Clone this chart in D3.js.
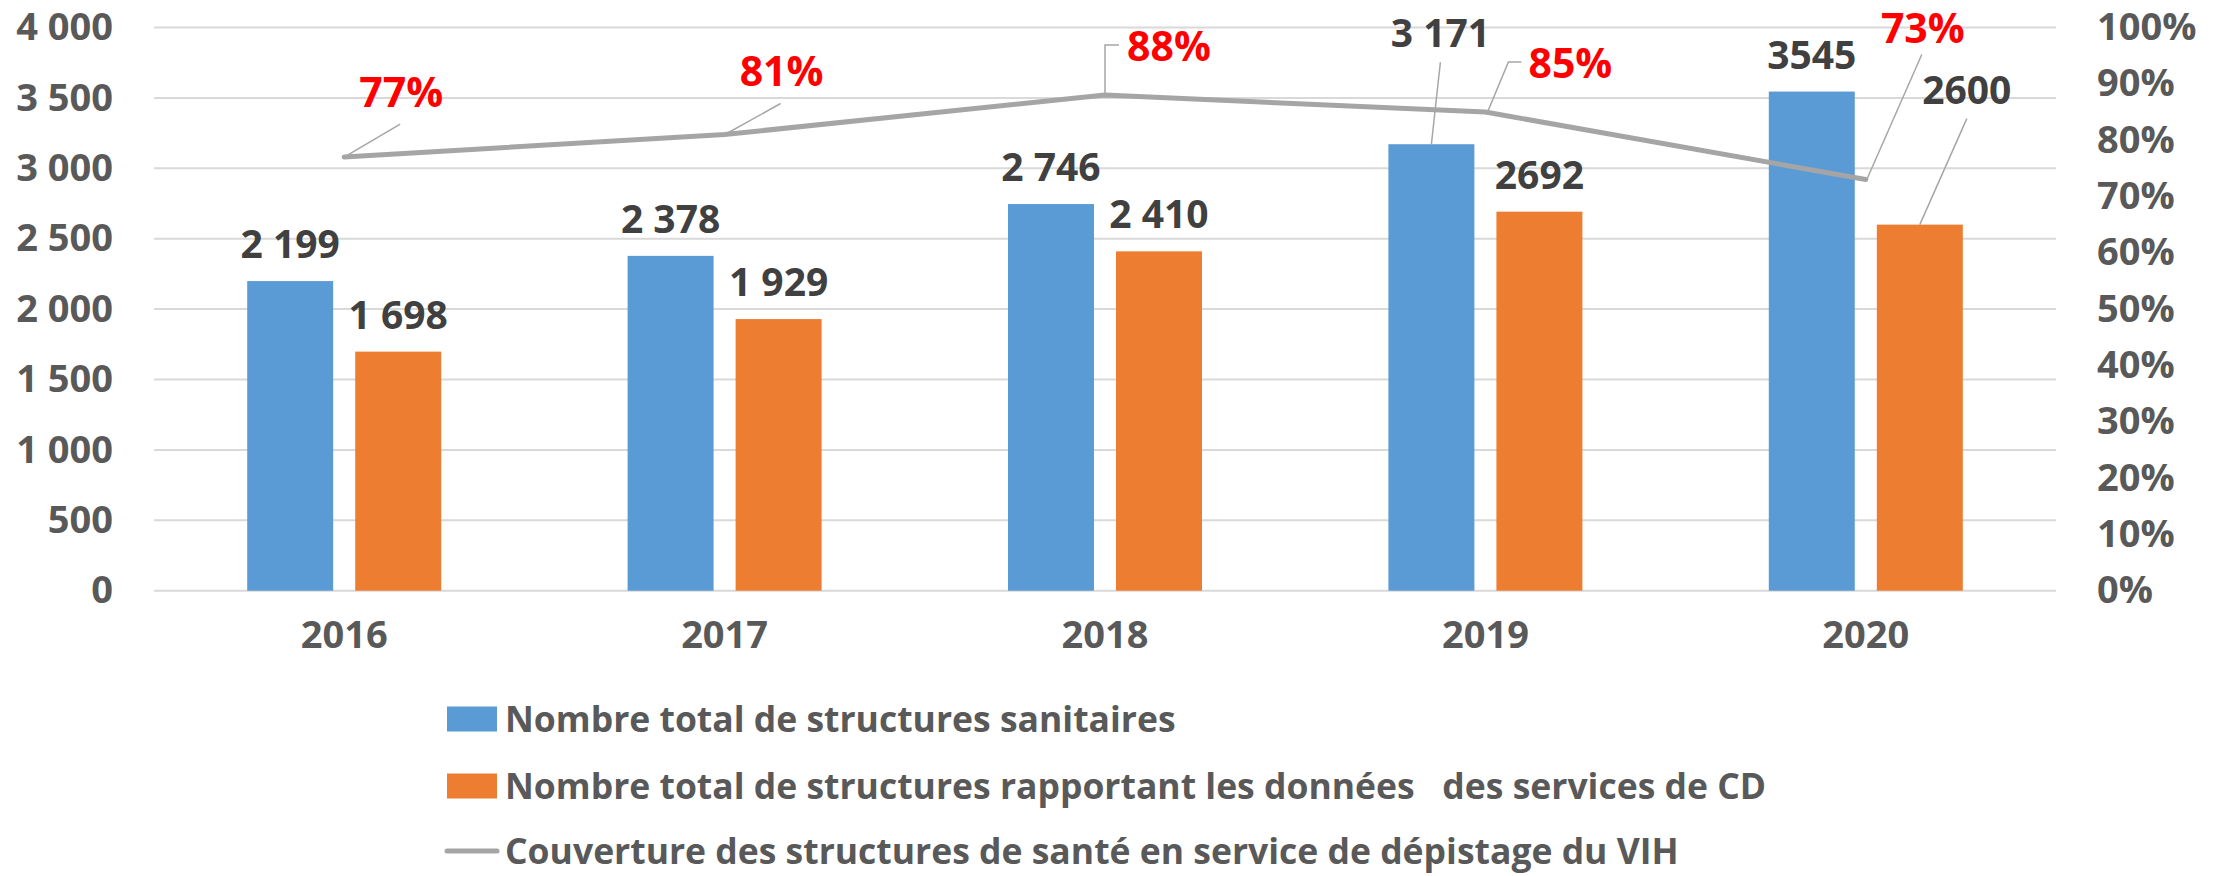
<!DOCTYPE html>
<html>
<head>
<meta charset="utf-8">
<script src="https://cdn.jsdelivr.net/npm/d3@7"></script>
<style>
    body { margin: 0; background: #fff; }
    svg text { font-family: "Open Sans", sans-serif; font-weight: bold; }
</style>
</head>
<body>
<div id="chart"></div>
<script>
// Data
const years = ['2016', '2017', '2018', '2019', '2020'];
const totalStructures = [2199, 2378, 2746, 3171, 3545];
const reportingStructures = [1698, 1929, 2410, 2692, 2600];
const coverage = [0.77, 0.81, 0.88, 0.85, 0.73];
const totalLabels = ['2 199', '2 378', '2 746', '3 171', '3545'];
const reportingLabels = ['1 698', '1 929', '2 410', '2692', '2600'];
const leftTicks = [0, 500, 1000, 1500, 2000, 2500, 3000, 3500, 4000];
const rightTicks = [0, 0.1, 0.2, 0.3, 0.4, 0.5, 0.6, 0.7, 0.8, 0.9, 1];
const legendLabels = [
    'Nombre total de structures sanitaires',
    'Nombre total de structures rapportant les données\u00a0\u00a0 des services de CD',
    'Couverture des structures de santé en service de dépistage du VIH'
];

const colors = { total: '#5B9BD5', reporting: '#ED7D31', line: '#A5A5A5' };

// Label placement (offsets from the marked point, in px)
const pctLabelPos = [
    { dx: 57, dy: -65, leader: [[0, 0], [56, -33]] },
    { dx: 57, dy: -63, leader: [[4, -2], [56, -31]] },
    { dx: 64, dy: -49, leader: [[0, 0], [0, -50], [14, -50]] },
    { dx: 85, dy: -49, leader: [[3, -2], [23, -50], [36, -50]] },
    { dx: 57, dy: -151, leader: [[1, 0], [56, -125]] }
];
const totalLeaders = { 3: { dx: 9, dy: -111, leader: [[0, 0], [9, -82]] } };
const reportingLeaders = { 4: { dx: 47, dy: -135, leader: [[0, 0], [47, -106]] } };

const W = 2216, H = 876;
const plot = { left: 154, right: 2056, top: 27.5, bottom: 590.7 };

const svg = d3.select('#chart').append('svg')
    .attr('width', W).attr('height', H);

const fmt = d3.formatLocale({ decimal: ',', thousands: ' ', grouping: [3], currency: ['', ''] }).format(',');

const x0 = d3.scaleBand().domain(years)
    .range([plot.left, plot.right])
    .paddingInner(0.49).paddingOuter(0.245);
const x1 = d3.scaleBand().domain(['total', 'reporting'])
    .range([0, x0.bandwidth()])
    .paddingInner(0.204);
const y = d3.scaleLinear().domain([0, 4000]).range([plot.bottom, plot.top]);
const yPct = d3.scaleLinear().domain([0, 1]).range([plot.bottom, plot.top]);

// Gridlines
svg.append('g')
    .selectAll('line')
    .data(leftTicks)
    .enter().append('line')
    .attr('x1', plot.left).attr('x2', plot.right)
    .attr('y1', d => y(d)).attr('y2', d => y(d))
    .attr('stroke', '#D9D9D9').attr('stroke-width', 2);

function styleAxis(g) {
    g.select('.domain').remove();
    g.selectAll('text')
        .style('font-size', '38px').attr('fill', '#595959')
        .style('font-family', '"Open Sans", sans-serif').style('font-weight', 'bold');
}

// Left axis
svg.append('g')
    .attr('transform', `translate(${plot.left},0)`)
    .call(d3.axisLeft(y).tickValues(leftTicks).tickFormat(fmt).tickSize(0).tickPadding(41))
    .call(styleAxis);

// Right axis
svg.append('g')
    .attr('transform', `translate(${plot.right},0)`)
    .call(d3.axisRight(yPct).tickValues(rightTicks).tickFormat(d3.format('.0%')).tickSize(0).tickPadding(41))
    .call(styleAxis);

// Bottom axis
svg.append('g')
    .attr('transform', `translate(0,${plot.bottom})`)
    .call(d3.axisBottom(x0).tickSize(0).tickPadding(30))
    .call(styleAxis);

// Bars
const rows = years.map((yr, i) => ({
    year: yr,
    bars: [
        { key: 'total', value: totalStructures[i], label: totalLabels[i], leader: totalLeaders[i] },
        { key: 'reporting', value: reportingStructures[i], label: reportingLabels[i], leader: reportingLeaders[i] }
    ]
}));

const groups = svg.append('g').selectAll('g')
    .data(rows)
    .enter().append('g')
    .attr('transform', d => `translate(${x0(d.year)},0)`);

groups.selectAll('rect')
    .data(d => d.bars)
    .enter().append('rect')
    .attr('x', d => x1(d.key))
    .attr('y', d => y(d.value))
    .attr('width', x1.bandwidth())
    .attr('height', d => y(0) - y(d.value))
    .attr('fill', d => colors[d.key]);

// Bar labels
groups.each(function (row) {
    const g = d3.select(this);
    row.bars.forEach(b => {
        const cx = x1(b.key) + x1.bandwidth() / 2;
        const top = y(b.value);
        let lx = cx, ly = top - 37;
        if (b.leader) {
            lx = cx + b.leader.dx;
            ly = top + b.leader.dy;
            g.append('path')
                .attr('d', d3.line()(b.leader.leader.map(p => [cx + p[0], top + p[1]])))
                .attr('fill', 'none').attr('stroke', '#A6A6A6').attr('stroke-width', 1.5);
        }
        g.append('text')
            .attr('x', lx).attr('y', ly).attr('dy', '0.36em')
            .attr('text-anchor', 'middle')
            .style('font-size', '39px').attr('fill', '#404040')
            .text(b.label);
    });
});

// Coverage line
const linePts = years.map((yr, i) => [x0(yr) + x0.bandwidth() / 2, yPct(coverage[i])]);

svg.append('path')
    .attr('d', d3.line()(linePts))
    .attr('fill', 'none')
    .attr('stroke', colors.line)
    .attr('stroke-width', 5)
    .attr('stroke-linejoin', 'round')
    .attr('stroke-linecap', 'round');

linePts.forEach((p, i) => {
    const pos = pctLabelPos[i];
    svg.append('path')
        .attr('d', d3.line()(pos.leader.map(o => [p[0] + o[0], p[1] + o[1]])))
        .attr('fill', 'none').attr('stroke', '#A6A6A6').attr('stroke-width', 1.5);
    svg.append('text')
        .attr('x', p[0] + pos.dx).attr('y', p[1] + pos.dy).attr('dy', '0.36em')
        .attr('text-anchor', 'middle')
        .style('font-size', '41px').attr('fill', '#FF0000')
        .text(d3.format('.0%')(coverage[i]));
});

// Legend
const legendX = 447;
const legendY = [719, 786, 851];
const legend = svg.append('g');
legendLabels.forEach((lbl, i) => {
    if (i < 2) {
        legend.append('rect')
            .attr('x', legendX).attr('y', legendY[i] - 12.5)
            .attr('width', 50).attr('height', 25)
            .attr('fill', i === 0 ? colors.total : colors.reporting);
    } else {
        legend.append('line')
            .attr('x1', legendX).attr('x2', legendX + 50)
            .attr('y1', legendY[i]).attr('y2', legendY[i])
            .attr('stroke', colors.line).attr('stroke-width', 5)
            .attr('stroke-linecap', 'round');
    }
    legend.append('text')
        .attr('x', legendX + 58).attr('y', legendY[i]).attr('dy', '0.36em')
        .style('font-size', '35.5px').attr('fill', '#595959')
        .text(lbl);
});
</script>
</body>
</html>
